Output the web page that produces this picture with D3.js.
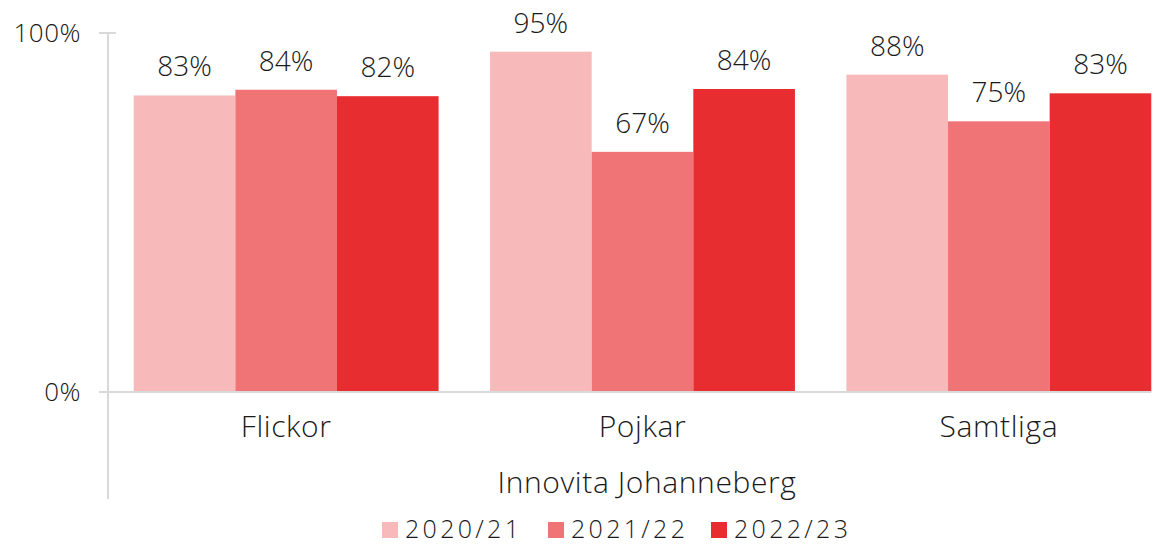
<!DOCTYPE html>
<html>
<head>
<meta charset="utf-8">
<script src="https://cdn.jsdelivr.net/npm/d3@7"></script>
<style>
  body { margin: 0; background: #fff; }
  text { font-family: "Open Sans", Lato, sans-serif; font-weight: 300; fill: #1a1a1a; }
</style>
</head>
<body>
<div id="chart"></div>
<script>
'use strict';

// data
var categories = ['Flickor', 'Pojkar', 'Samtliga'];
var seriesNames = ['2020/21', '2021/22', '2022/23'];
var values2020 = [82.6, 94.8, 88.4];
var values2021 = [84.2, 66.9, 75.4];
var values2022 = [82.4, 84.4, 83.2];
var yTicks = [0, 100];
var groupTitle = 'Innovita Johanneberg';

var colors = ['#F8B9BB', '#F07476', '#E82D31'];
var allSeries = [values2020, values2021, values2022];

var width = 1164, height = 544;

var svg = d3.select('#chart')
    .append('svg')
        .attr('width', width)
        .attr('height', height);

// scales
var x = d3.scaleBand().domain(categories).range([108, 1177]).paddingInner(0.1445).paddingOuter(0.0722);
var xs = d3.scaleBand().domain(seriesNames).range([0, x.bandwidth()]);
var y = d3.scaleLinear().domain([0, 100]).range([392, 33]);

// y axis line + ticks
svg.append('line')
    .attr('x1', 108).attr('x2', 108)
    .attr('y1', y(100)).attr('y2', 499)
    .attr('stroke', '#d9d9d9').attr('stroke-width', 2);

svg.selectAll('.ytick')
    .data(yTicks)
    .enter()
        .append('line')
        .attr('x1', 99).attr('x2', 116)
        .attr('y1', function(d){ return y(d); })
        .attr('y2', function(d){ return y(d); })
        .attr('stroke', '#d9d9d9').attr('stroke-width', 2);

svg.selectAll('.ylabel')
    .data(yTicks)
    .enter()
        .append('text')
        .attr('x', 81)
        .attr('y', function(d){ return y(d); })
        .attr('dy', '0.35em')
        .attr('text-anchor', 'end')
        .style('font-size', '26px')
        .style('letter-spacing', '0.5px')
        .text(function(d){ return d + '%'; });

// bars
var rows = [];
categories.forEach(function(c, i){
    seriesNames.forEach(function(s, j){
        rows.push({cat: c, series: s, value: allSeries[j][i], color: colors[j]});
    });
});

svg.selectAll('rect.bar')
    .data(rows)
    .enter()
        .append('rect')
        .attr('class', 'bar')
        .attr('x', function(d){ return x(d.cat) + xs(d.series); })
        .attr('y', function(d){ return y(d.value); })
        .attr('width', xs.bandwidth())
        .attr('height', function(d){ return y(0) - y(d.value); })
        .attr('fill', function(d){ return d.color; });

// baseline
svg.append('line')
    .attr('x1', 99).attr('x2', x('Samtliga') + x.bandwidth())
    .attr('y1', y(0)).attr('y2', y(0))
    .attr('stroke', '#d9d9d9').attr('stroke-width', 2);

// value labels
svg.selectAll('text.val')
    .data(rows)
    .enter()
        .append('text')
        .attr('class', 'val')
        .attr('x', function(d){ return x(d.cat) + xs(d.series) + xs.bandwidth() / 2; })
        .attr('y', function(d){ return y(d.value) - 19; })
        .attr('text-anchor', 'middle')
        .style('font-size', '28px')
        .text(function(d){ return Math.round(d.value) + '%'; });

// category labels
svg.selectAll('text.cat')
    .data(categories)
    .enter()
        .append('text')
        .attr('class', 'cat')
        .attr('x', function(d){ return x(d) + x.bandwidth() / 2; })
        .attr('y', 437)
        .attr('text-anchor', 'middle')
        .style('font-size', '30px')
        .style('letter-spacing', '0.6px')
        .text(function(d){ return d; });

svg.append('text')
    .attr('x', 647)
    .attr('y', 493)
    .attr('text-anchor', 'middle')
    .style('font-size', '30px')
    .style('letter-spacing', '0.6px')
    .text(groupTitle);

// legend
var legendX = [382, 548, 711];
var legend = svg.selectAll('g.leg')
    .data(seriesNames)
    .enter()
        .append('g')
        .attr('class', 'leg')
        .attr('transform', function(d, i){ return 'translate(' + legendX[i] + ',530)'; });

legend.append('rect')
    .attr('x', 0).attr('y', -8)
    .attr('width', 16).attr('height', 16)
    .attr('fill', function(d, i){ return colors[i]; });

legend.append('text')
    .attr('x', 23)
    .attr('y', 8)
    .style('font-size', '25px')
    .style('letter-spacing', '3.3px')
    .text(function(d){ return d; });
</script>
</body>
</html>
